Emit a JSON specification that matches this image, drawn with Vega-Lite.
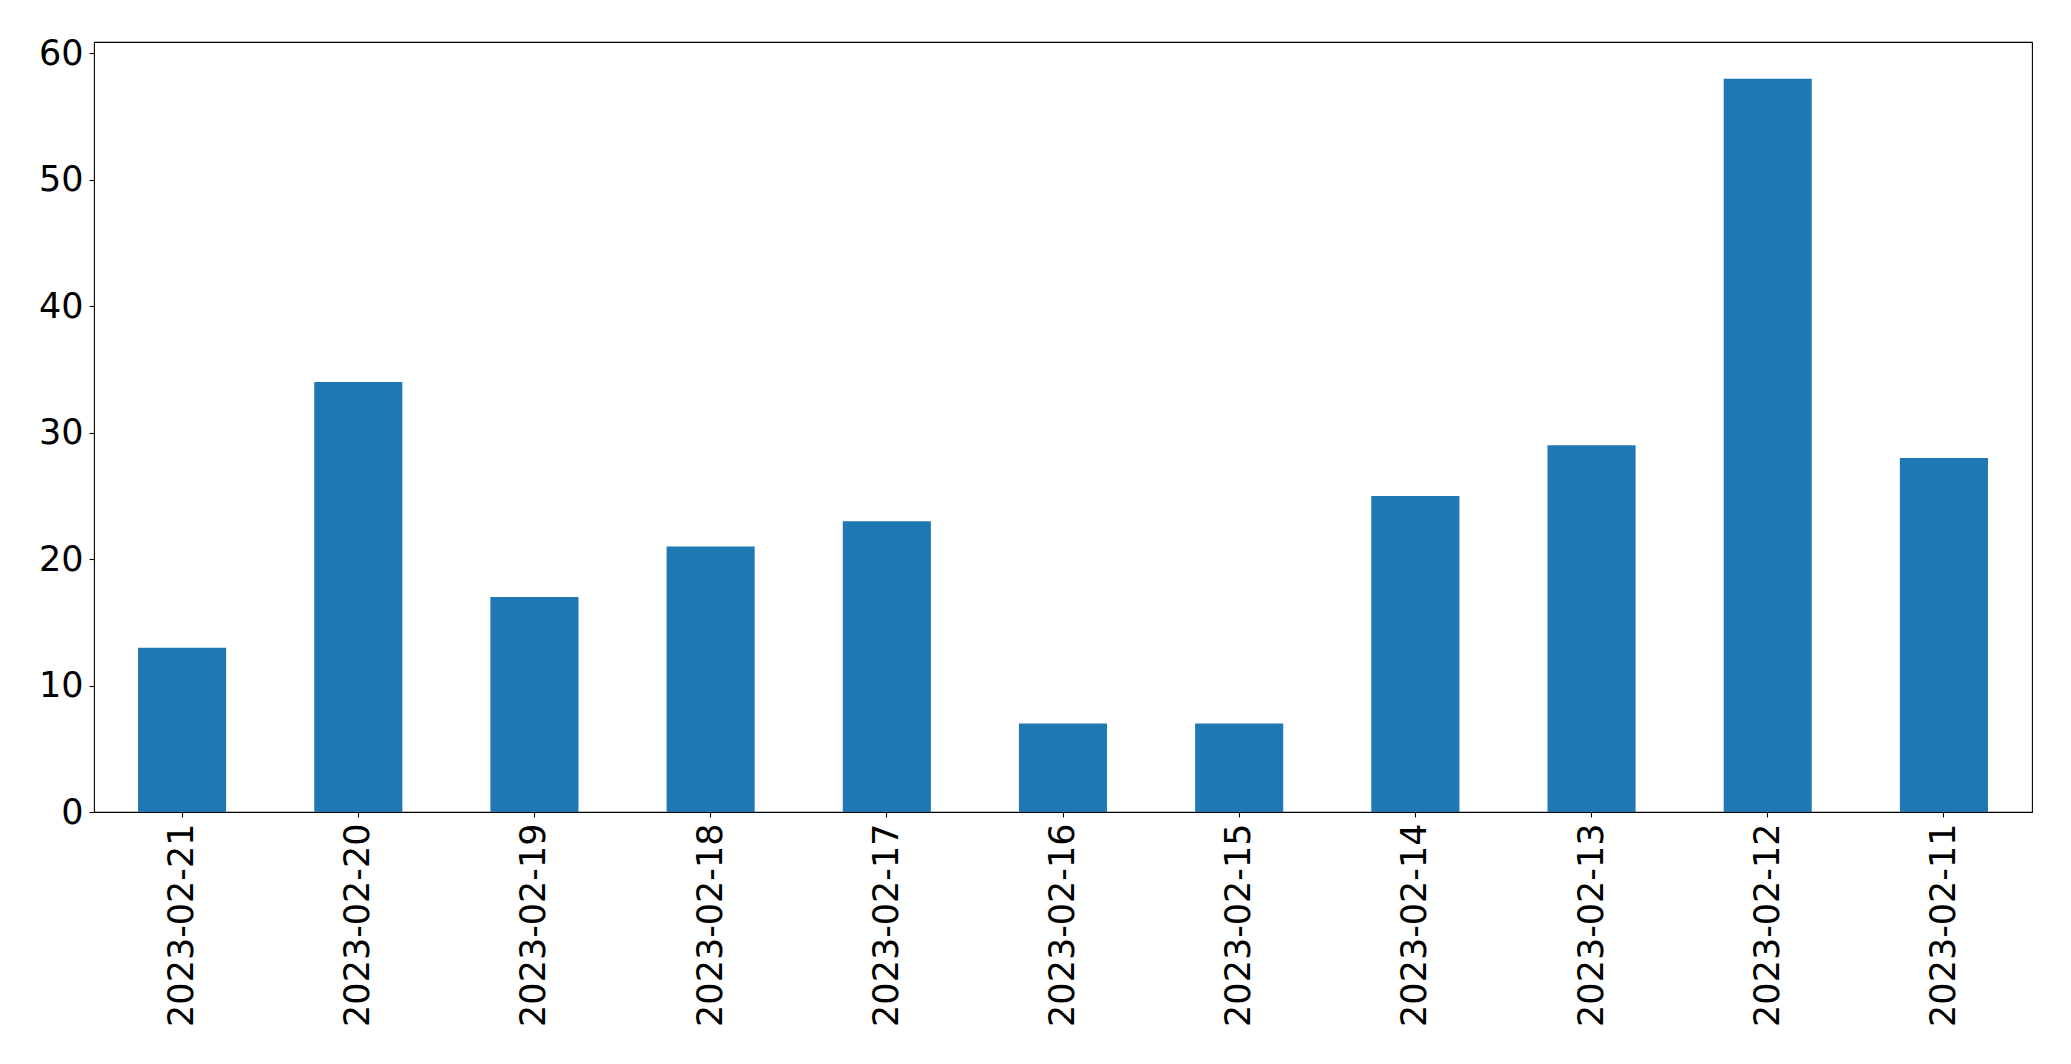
{
  "$schema": "https://vega.github.io/schema/vega-lite/v6.json",
  "autosize": "none",
  "width": 1938,
  "height": 770,
  "padding": {"left": 94, "top": 42, "right": 39, "bottom": 252},
  "background": "white",
  "config": {
    "view": {"stroke": "black", "strokeWidth": 1.1},
    "font": "DejaVu Sans"
  },
  "data": {
    "values": [
      {"date": "2023-02-21", "count": 13},
      {"date": "2023-02-20", "count": 34},
      {"date": "2023-02-19", "count": 17},
      {"date": "2023-02-18", "count": 21},
      {"date": "2023-02-17", "count": 23},
      {"date": "2023-02-16", "count": 7},
      {"date": "2023-02-15", "count": 7},
      {"date": "2023-02-14", "count": 25},
      {"date": "2023-02-13", "count": 29},
      {"date": "2023-02-12", "count": 58},
      {"date": "2023-02-11", "count": 28}
    ]
  },
  "mark": {"type": "bar", "color": "#1f77b4"},
  "encoding": {
    "x": {
      "field": "date",
      "type": "nominal",
      "sort": null,
      "scale": {"paddingInner": 0.5, "paddingOuter": 0.25},
      "axis": {
        "title": null,
        "domain": false,
        "grid": false,
        "labelAngle": -90,
        "labelAlign": "right",
        "labelBaseline": "middle",
        "labelFontSize": 35,
        "labelLimit": 0,
        "labelColor": "black",
        "labelFont": "DejaVu Sans",
        "labelPadding": 6,
        "tickColor": "black",
        "tickSize": 5,
        "tickWidth": 1.1
      }
    },
    "y": {
      "field": "count",
      "type": "quantitative",
      "scale": {"domain": [0, 60.9], "nice": false, "zero": true},
      "axis": {
        "title": null,
        "domain": false,
        "grid": false,
        "values": [0, 10, 20, 30, 40, 50, 60],
        "labelFontSize": 35,
        "labelColor": "black",
        "labelFont": "DejaVu Sans",
        "labelPadding": 6,
        "labelBaseline": "middle",
        "tickColor": "black",
        "tickSize": 5,
        "tickWidth": 1.1
      }
    }
  }
}
